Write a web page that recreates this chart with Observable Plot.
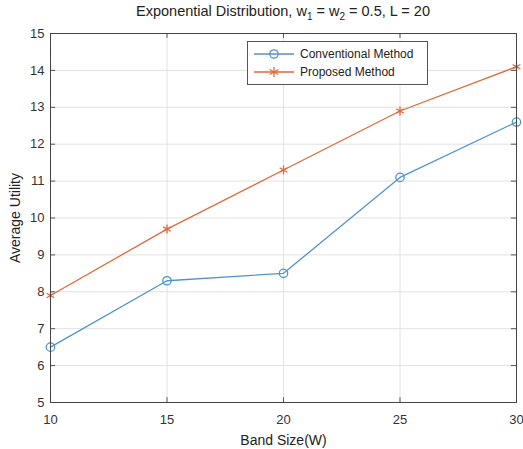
<!DOCTYPE html>
<html>
<head>
<meta charset="utf-8">
<script src="https://cdn.jsdelivr.net/npm/d3@7"></script>
<script src="https://cdn.jsdelivr.net/npm/@observablehq/plot@0.6"></script>
<style>
  body { margin: 0; background: #fff; font-family: "Liberation Sans", Arial, sans-serif; }
  #wrap { position: relative; width: 523px; height: 449px; }
  #title { position: absolute; left: 50px; width: 466px; top: 3px; text-align: center; font-size: 14.5px; color: #222; white-space: nowrap; }
  #title sub { font-size: 10px; }
  #chart { position: absolute; left: 0; top: 25px; }
  #legend { position: absolute; left: 247px; top: 41px; width: 181px; height: 44px; border: 1px solid #555; background: #fff; font-size: 12px; color: #222; box-sizing: border-box; }
  .row { position: absolute; left: 6px; height: 18px; display: flex; align-items: center; }
  .row span { margin-left: 6px; }
</style>
</head>
<body>
<div id="wrap">
  <div id="title">Exponential Distribution, w<sub>1</sub> = w<sub>2</sub> = 0.5, L = 20</div>
  <div id="chart"></div>
  <div id="legend"></div>
</div>
<script>
const bandSizes = [10, 15, 20, 25, 30];
const conventional = [6.5, 8.3, 8.5, 11.1, 12.6];
const proposed = [7.9, 9.7, 11.3, 12.9, 14.1];
const seriesNames = ["Conventional Method", "Proposed Method"];
const seriesColors = ["#4f94cd", "#e2693b"];
const seriesSymbols = ["circle", "asterisk"];
const xTicks = [10, 15, 20, 25, 30];
const yTicks = [5, 6, 7, 8, 9, 10, 11, 12, 13, 14, 15];

const data = [];
[conventional, proposed].forEach((vals, s) => {
  vals.forEach((v, i) => data.push({x: bandSizes[i], y: v, series: seriesNames[s]}));
});

const plot = Plot.plot({
  width: 523,
  height: 424,
  marginLeft: 50,
  marginRight: 7,
  marginTop: 8,
  marginBottom: 47,
  style: {fontFamily: "Liberation Sans, Arial, sans-serif", fontSize: "13px", color: "#333", background: "#fff"},
  x: {domain: [10, 30], ticks: xTicks, tickSize: 0, tickPadding: 12, label: "Band Size(W)", labelAnchor: "center", labelOffset: 42, labelArrow: "none"},
  y: {domain: [5, 15], ticks: yTicks, tickSize: 0, tickPadding: 6, label: "Average Utility", labelAnchor: "center", labelOffset: 40, labelArrow: "none"},
  color: {domain: seriesNames, range: seriesColors},
  symbol: {domain: seriesNames, range: seriesSymbols},
  marks: [
    Plot.gridX(xTicks, {stroke: "#e2e2e2", strokeOpacity: 1}),
    Plot.gridY(yTicks, {stroke: "#e2e2e2", strokeOpacity: 1}),
    Plot.ruleX(xTicks, {x: d => d, y1: 5, y2: 5.13, stroke: "#555"}),
    Plot.ruleX(xTicks, {x: d => d, y1: 14.87, y2: 15, stroke: "#555"}),
    Plot.ruleY(yTicks, {y: d => d, x1: 10, x2: 10.22, stroke: "#555"}),
    Plot.ruleY(yTicks, {y: d => d, x1: 29.78, x2: 30, stroke: "#555"}),
    Plot.line(data, {x: "x", y: "y", z: "series", stroke: "series", strokeWidth: 1.3}),
    Plot.dot(data, {x: "x", y: "y", stroke: "series", symbol: "series", r: 4.2, strokeWidth: 1.3, fill: "none"}),
    Plot.frame({stroke: "#444", strokeWidth: 1})
  ]
});
plot.querySelectorAll("[aria-label='x-axis label'] text, [aria-label='y-axis label'] text").forEach(t => {
  t.setAttribute("font-size", "14px");
  t.style.fontSize = "14px";
  t.style.fill = "#222";
});
document.getElementById("chart").appendChild(plot);

// legend
const legend = document.getElementById("legend");
seriesNames.forEach((name, i) => {
  const row = document.createElement("div");
  row.className = "row";
  row.style.top = (3 + i * 18) + "px";
  const sym = d3.symbol(i === 0 ? d3.symbolCircle : d3.symbolAsterisk, i === 0 ? 55 : 70)();
  row.innerHTML = `<svg width="40" height="18"><line x1="0" x2="40" y1="9" y2="9" stroke="${seriesColors[i]}" stroke-width="1.3"/><path d="${sym}" transform="translate(20,9)" fill="none" stroke="${seriesColors[i]}" stroke-width="1.3"/></svg><span>${name}</span>`;
  legend.appendChild(row);
});
</script>
</body>
</html>
